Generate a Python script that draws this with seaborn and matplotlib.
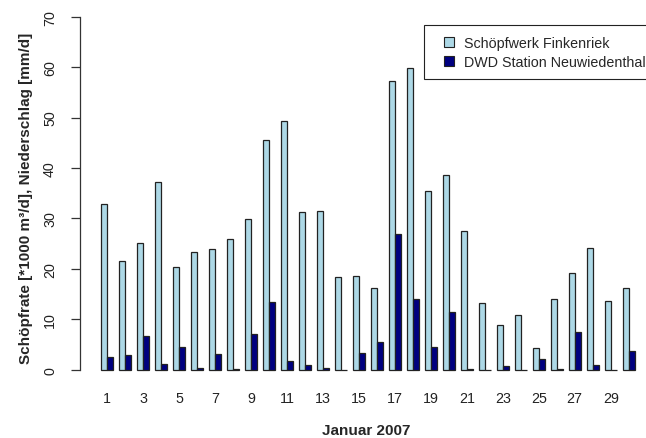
import seaborn as sns
import numpy as np
import pandas as pd
import matplotlib.pyplot as plt
from matplotlib.lines import Line2D

# daily values, January 2007
days = list(range(1, 31))
schoepfrate = [32.9, 21.6, 25.1, 37.3, 20.3, 23.4, 24.0, 25.9, 29.8, 45.6,
               49.4, 31.3, 31.4, 18.4, 18.7, 16.3, 57.3, 59.9, 35.4, 38.6,
               27.5, 13.2, 8.8, 10.9, 4.4, 14.1, 19.1, 24.1, 13.7, 16.2]
niederschlag = [2.5, 3.0, 6.7, 1.1, 4.6, 0.4, 3.2, 0.2, 7.1, 13.5,
                1.8, 1.0, 0.4, 0.0, 3.3, 5.5, 27.0, 14.1, 4.6, 11.4,
                0.2, 0.0, 0.8, 0.0, 2.2, 0.1, 7.5, 0.9, 0.0, 3.8]
series_names = ["Schöpfwerk Finkenriek", "DWD Station Neuwiedenthal"]
colors = ["#ADD8E6", "#000080"]

df = pd.DataFrame({
    "day": days * 2,
    "value": schoepfrate + niederschlag,
    "series": [series_names[0]] * len(days) + [series_names[1]] * len(days),
})

sns.set_theme(style="white")
plt.rcParams["font.family"] = ["Liberation Sans", "DejaVu Sans"]
fs = 10.3

fig = plt.figure(figsize=(6.46, 4.39), dpi=100)
ax = fig.add_axes([80 / 646, 54 / 439, 576 / 646, 381.5 / 439])

sns.barplot(data=df, x="day", y="value", hue="series", palette=colors,
            saturation=1, width=2 / 3, dodge=True, edgecolor="#222222",
            linewidth=0.9, legend=False, ax=ax)

ax.set_xlim(-1.52, 30.52)
ax.set_ylim(-2.8, 72.8)

for s in ["top", "right", "bottom"]:
    ax.spines[s].set_visible(False)
ax.spines["left"].set_bounds(0, 70)
ax.spines["left"].set_color("#333333")
ax.spines["left"].set_linewidth(0.9)

ax.set_xticks(range(0, 30, 2))
ax.set_xticklabels([str(d) for d in days[::2]], fontsize=fs, color="#222222")
ax.tick_params(axis="x", length=0, pad=5)

ax.set_yticks(range(0, 71, 10))
ax.tick_params(axis="y", left=True, length=6.5, width=0.9, color="#333333",
               pad=10, labelsize=fs, labelcolor="#222222")
for lab in ax.get_yticklabels():
    lab.set_rotation(90)
    lab.set_va("center")
    lab.set_ha("right")

ax.set_xlabel("Januar 2007", fontsize=11, fontweight="bold")
ax.xaxis.set_label_coords((366 - 80) / 576, -(424 - 385) / 381.5)
ax.set_ylabel("Schöpfrate [*1000 m³/d], Niederschlag [mm/d]",
              fontsize=11, fontweight="bold")
ax.yaxis.set_label_coords(-(80 - 33) / 576, 0.49)

handles = [Line2D([], [], linestyle="none", marker="s", markersize=7.5,
                  markerfacecolor=c, markeredgecolor="#222222",
                  markeredgewidth=0.8) for c in colors]
ax.legend(handles, series_names, loc="upper right",
          bbox_to_anchor=(1.0, 1 - (26 - 3.5) / 381.5), frameon=True,
          fancybox=False, edgecolor="#222222", framealpha=1, fontsize=fs,
          borderpad=0.75, handlelength=2.0, handletextpad=0.0,
          labelspacing=0.35, borderaxespad=0)
ax.get_legend().get_frame().set_linewidth(0.8)

plt.savefig("out.png", dpi=100)
